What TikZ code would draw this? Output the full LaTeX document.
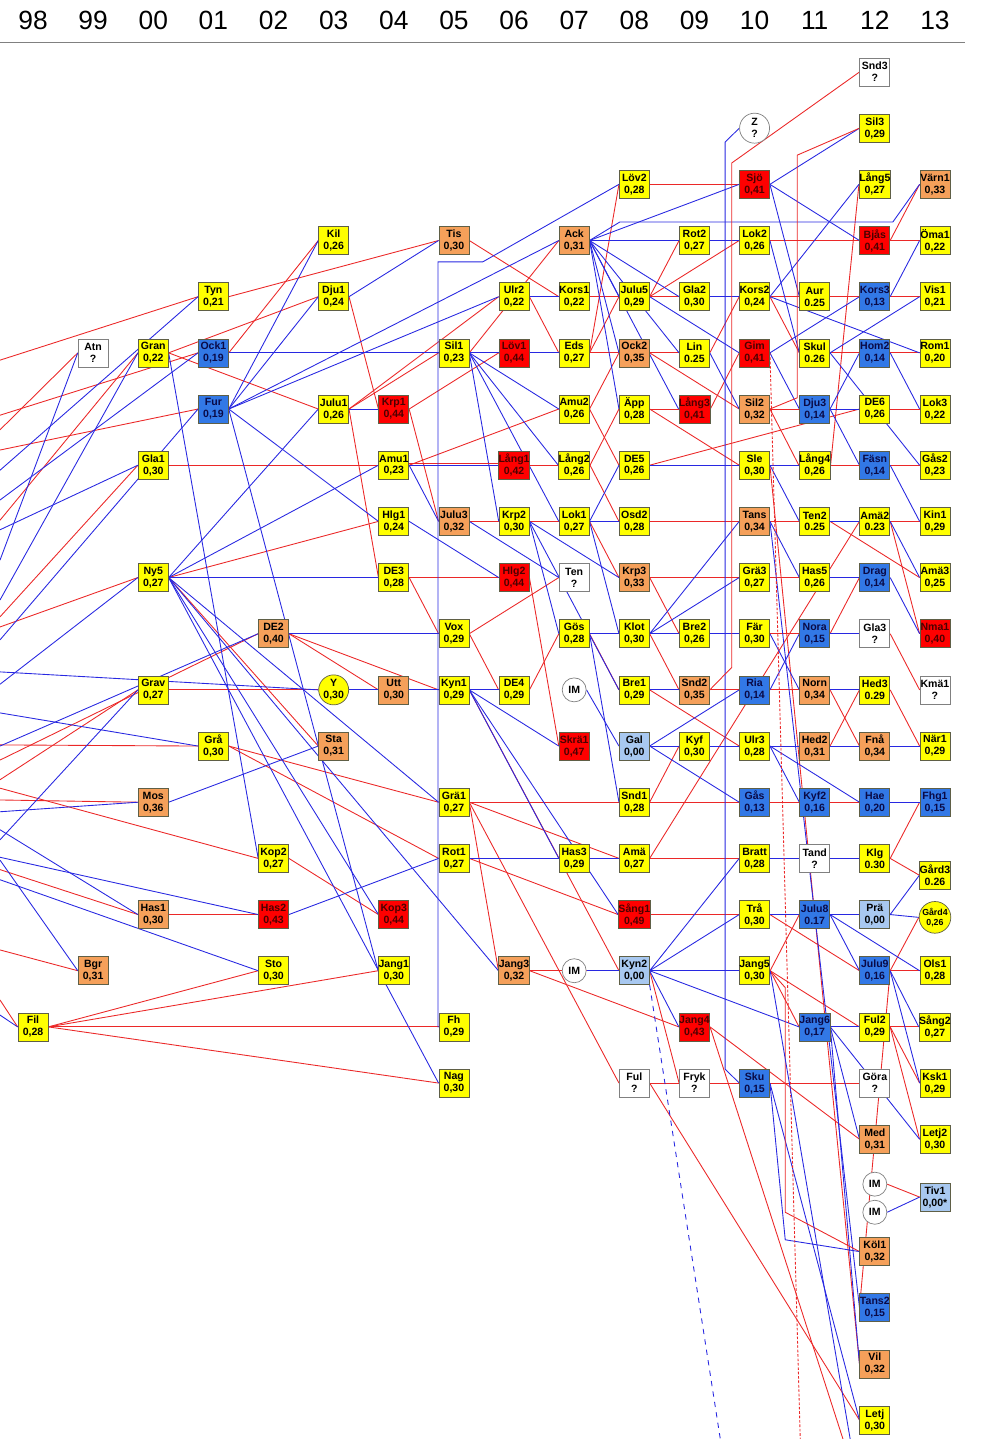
\documentclass[tikz,border=0pt]{standalone}
\usepackage{fontspec}
\setmainfont{Liberation Sans}
\usepackage{xcolor}
\usepackage{tikz}

\definecolor{fYel}{RGB}{255,255,0}
\definecolor{fOrg}{RGB}{245,160,90}
\definecolor{fRed}{RGB}{255,0,0}
\definecolor{fBlue}{RGB}{50,120,230}
\definecolor{fLight}{RGB}{168,200,240}
\definecolor{tRed}{RGB}{75,0,0}
\definecolor{tBlue}{RGB}{10,10,70}
\definecolor{boxEdge}{RGB}{95,95,70}
\definecolor{lineRed}{RGB}{235,40,40}
\definecolor{lineBlue}{RGB}{40,40,225}

\pgfdeclarelayer{back}
\pgfsetlayers{back,main}

\begin{document}
\begin{tikzpicture}[x=1.2026cm, y=-1.1234cm,
    terr/.style={rectangle, draw=boxEdge, thin, minimum width=0.6cm, minimum height=0.56cm, inner sep=0pt, align=center, font=\fontsize{6}{6.8}\selectfont\bfseries},
    yel/.style={terr, fill=fYel},
    org/.style={terr, fill=fOrg},
    hot/.style={terr, fill=fRed, text=tRed},
    blu/.style={terr, fill=fBlue, text=tBlue},
    lbl/.style={terr, fill=fLight},
    unk/.style={terr, draw=black!50, fill=white},
    ring/.style={circle, draw=black!50, fill=white, thin, minimum size=0.6cm, inner sep=0pt, align=center, font=\fontsize{6}{6.8}\selectfont\bfseries},
    yring/.style={ring, draw=boxEdge, fill=fYel},
    imring/.style={ring, minimum size=0.48cm},
    year/.style={font=\fontsize{15}{15}\selectfont},
    dam/.style={draw=lineRed, line width=0.5pt},
    sire/.style={draw=lineBlue, line width=0.5pt}
]
\useasboundingbox (-0.549,-1.282) rectangle (15.766,24.337);

% year header
\foreach \yr [count=\i from 0] in {98,99,00,01,02,03,04,05,06,07,08,09,10,11,12,13}
    \node[year] (yr\i) at (\i,-0.917) {\yr};
\draw[gray, line width=0.8pt] (-0.549,-0.529) -- (15.5,-0.529);

% 98 - 99
\node[yel] (Fil) at (0,17) {Fil\\0,28};
\node[unk] (Atn) at (1,5) {Atn\\?};
\node[org] (Bgr) at (1,16) {Bgr\\0,31};
% 00
\node[yel] (Gran) at (2,5) {Gran\\0,22};
\node[yel] (Gla1) at (2,7) {Gla1\\0,30};
\node[yel] (Ny5) at (2,9) {Ny5\\0,27};
\node[yel] (Grav) at (2,11) {Grav\\0,27};
\node[org] (Mos) at (2,13) {Mos\\0,36};
\node[org] (Has1) at (2,15) {Has1\\0,30};
% 01
\node[yel] (Tyn) at (3,4) {Tyn\\0,21};
\node[blu] (Ock1) at (3,5) {Ock1\\0,19};
\node[blu] (Fur) at (3,6) {Fur\\0,19};
\node[yel] (Graa) at (3,12) {Grå\\0,30};
% 02
\node[org] (DE2) at (4,10) {DE2\\0,40};
\node[yel] (Kop2) at (4,14) {Kop2\\0,27};
\node[hot] (Has2) at (4,15) {Has2\\0,43};
\node[yel] (Sto) at (4,16) {Sto\\0,30};
% 03
\node[yel] (Kil) at (5,3) {Kil\\0,26};
\node[yel] (Dju1) at (5,4) {Dju1\\0,24};
\node[yel] (Julu1) at (5,6) {Julu1\\0,26};
\node[yring] (Y) at (5,11) {Y\\0,30};
\node[org] (Sta) at (5,12) {Sta\\0,31};
% 04
\node[hot] (Krp1) at (6,6) {Krp1\\0,44};
\node[yel] (Amu1) at (6,7) {Amu1\\0,23};
\node[yel] (Hlg1) at (6,8) {Hlg1\\0,24};
\node[yel] (DE3) at (6,9) {DE3\\0,28};
\node[org] (Utt) at (6,11) {Utt\\0,30};
\node[hot] (Kop3) at (6,15) {Kop3\\0,44};
\node[yel] (Jang1) at (6,16) {Jang1\\0,30};
% 05
\node[org] (Tis) at (7,3) {Tis\\0,30};
\node[yel] (Sil1) at (7,5) {Sil1\\0,23};
\node[org] (Julu3) at (7,8) {Julu3\\0,32};
\node[yel] (Vox) at (7,10) {Vox\\0,29};
\node[yel] (Kyn1) at (7,11) {Kyn1\\0,29};
\node[yel] (Grae1) at (7,13) {Grä1\\0,27};
\node[yel] (Rot1) at (7,14) {Rot1\\0,27};
\node[yel] (Fh) at (7,17) {Fh\\0,29};
\node[yel] (Nag) at (7,18) {Nag\\0,30};
% 06
\node[yel] (Ulr2) at (8,4) {Ulr2\\0,22};
\node[hot] (Loev1) at (8,5) {Löv1\\0,44};
\node[hot] (Laang1) at (8,7) {Lång1\\0,42};
\node[yel] (Krp2) at (8,8) {Krp2\\0,30};
\node[hot] (Hlg2) at (8,9) {Hlg2\\0,44};
\node[yel] (DE4) at (8,11) {DE4\\0,29};
\node[org] (Jang3) at (8,16) {Jang3\\0,32};
% 07
\node[org] (Ack) at (9,3) {Ack\\0,31};
\node[yel] (Kors1) at (9,4) {Kors1\\0,22};
\node[yel] (Eds) at (9,5) {Eds\\0,27};
\node[yel] (Amu2) at (9,6) {Amu2\\0,26};
\node[yel] (Laang2) at (9,7) {Lång2\\0,26};
\node[yel] (Lok1) at (9,8) {Lok1\\0,27};
\node[unk] (Ten) at (9,9) {Ten\\?};
\node[yel] (Goes) at (9,10) {Gös\\0,28};
\node[imring] (IMa) at (9,11) {IM};
\node[hot] (Skrae1) at (9,12) {Skrä1\\0,47};
\node[yel] (Has3) at (9,14) {Has3\\0,29};
\node[imring] (IMb) at (9,16) {IM};
% 08
\node[yel] (Loev2) at (10,2) {Löv2\\0,28};
\node[yel] (Julu5) at (10,4) {Julu5\\0,29};
\node[org] (Ock2) at (10,5) {Ock2\\0,35};
\node[yel] (Aepp) at (10,6) {Äpp\\0,28};
\node[yel] (DE5) at (10,7) {DE5\\0,26};
\node[yel] (Osd2) at (10,8) {Osd2\\0,28};
\node[org] (Krp3) at (10,9) {Krp3\\0,33};
\node[yel] (Klot) at (10,10) {Klot\\0,30};
\node[yel] (Bre1) at (10,11) {Bre1\\0,29};
\node[lbl] (Gal) at (10,12) {Gal\\0,00};
\node[yel] (Snd1) at (10,13) {Snd1\\0,28};
\node[yel] (Amae) at (10,14) {Amä\\0,27};
\node[hot] (Saang1) at (10,15) {Sång1\\0,49};
\node[lbl] (Kyn2) at (10,16) {Kyn2\\0,00};
\node[unk] (Ful) at (10,18) {Ful\\?};
% 09
\node[yel] (Rot2) at (11,3) {Rot2\\0,27};
\node[yel] (Gla2) at (11,4) {Gla2\\0,30};
\node[yel] (Lin) at (11,5) {Lin\\0.25};
\node[hot] (Laang3) at (11,6) {Lång3\\0,41};
\node[yel] (Bre2) at (11,10) {Bre2\\0,26};
\node[org] (Snd2) at (11,11) {Snd2\\0,35};
\node[yel] (Kyf) at (11,12) {Kyf\\0,30};
\node[hot] (Jang4) at (11,17) {Jang4\\0,43};
\node[unk] (Fryk) at (11,18) {Fryk\\?};
% 10
\node[ring] (Z) at (12,1) {Z\\?};
\node[hot] (Sjoe) at (12,2) {Sjö\\0,41};
\node[yel] (Lok2) at (12,3) {Lok2\\0,26};
\node[yel] (Kors2) at (12,4) {Kors2\\0,24};
\node[hot] (Gim) at (12,5) {Gim\\0,41};
\node[org] (Sil2) at (12,6) {Sil2\\0,32};
\node[yel] (Sle) at (12,7) {Sle\\0,30};
\node[org] (Tans) at (12,8) {Tans\\0,34};
\node[yel] (Grae3) at (12,9) {Grä3\\0,27};
\node[yel] (Faer) at (12,10) {Fär\\0,30};
\node[blu] (Ria) at (12,11) {Ria\\0,14};
\node[yel] (Ulr3) at (12,12) {Ulr3\\0,28};
\node[blu] (Gaas) at (12,13) {Gås\\0,13};
\node[yel] (Bratt) at (12,14) {Bratt\\0,28};
\node[yel] (Traa) at (12,15) {Trå\\0,30};
\node[yel] (Jang5) at (12,16) {Jang5\\0,30};
\node[blu] (Sku) at (12,18) {Sku\\0,15};
% 11
\node[yel] (Aur) at (13,4) {Aur\\0.25};
\node[yel] (Skul) at (13,5) {Skul\\0.26};
\node[blu] (Dju3) at (13,6) {Dju3\\0,14};
\node[yel] (Laang4) at (13,7) {Lång4\\0,26};
\node[yel] (Ten2) at (13,8) {Ten2\\0.25};
\node[yel] (Has5) at (13,9) {Has5\\0,26};
\node[blu] (Nora) at (13,10) {Nora\\0,15};
\node[org] (Norn) at (13,11) {Norn\\0,34};
\node[org] (Hed2) at (13,12) {Hed2\\0,31};
\node[blu] (Kyf2) at (13,13) {Kyf2\\0,16};
\node[unk] (Tand) at (13,14) {Tand\\?};
\node[blu] (Julu8) at (13,15) {Julu8\\0.17};
\node[blu] (Jang6) at (13,17) {Jang6\\0,17};
% 12
\node[unk] (Snd3) at (14,0) {Snd3\\?};
\node[yel] (Sil3) at (14,1) {Sil3\\0,29};
\node[yel] (Laang5) at (14,2) {Lång5\\0,27};
\node[hot] (Bjaas) at (14,3) {Bjås\\0,41};
\node[blu] (Kors3) at (14,4) {Kors3\\0,13};
\node[blu] (Hom2) at (14,5) {Hom2\\0,14};
\node[yel] (DE6) at (14,6) {DE6\\0,26};
\node[blu] (Faesn) at (14,7) {Fäsn\\0,14};
\node[yel] (Amae2) at (14,8) {Amä2\\0.23};
\node[blu] (Drag) at (14,9) {Drag\\0,14};
\node[unk] (Gla3) at (14,10) {Gla3\\?};
\node[yel] (Hed3) at (14,11) {Hed3\\0.29};
\node[org] (Fnaa) at (14,12) {Fnå\\0,34};
\node[blu] (Hae) at (14,13) {Hae\\0,20};
\node[yel] (Klg) at (14,14) {Klg\\0.30};
\node[lbl] (Prae) at (14,15) {Prä\\0,00};
\node[blu] (Julu9) at (14,16) {Julu9\\0,16};
\node[yel] (Ful2) at (14,17) {Ful2\\0,29};
\node[unk] (Goera) at (14,18) {Göra\\?};
\node[org] (Med) at (14,19) {Med\\0,31};
\node[imring] (IMc) at (14,19.8) {IM};
\node[imring] (IMd) at (14,20.3) {IM};
\node[org] (Koel1) at (14,21) {Köl1\\0,32};
\node[blu] (Tans2) at (14,22) {Tans2\\0,15};
\node[org] (Vil) at (14,23) {Vil\\0,32};
\node[yel] (Letj) at (14,24) {Letj\\0,30};
% 13
\node[org] (Vaern1) at (15,2) {Värn1\\0,33};
\node[yel] (Oema1) at (15,3) {Öma1\\0,22};
\node[yel] (Vis1) at (15,4) {Vis1\\0,21};
\node[yel] (Rom1) at (15,5) {Rom1\\0,20};
\node[yel] (Lok3) at (15,6) {Lok3\\0,22};
\node[yel] (Gaas2) at (15,7) {Gås2\\0,23};
\node[yel] (Kin1) at (15,8) {Kin1\\0,29};
\node[yel] (Amae3) at (15,9) {Amä3\\0,25};
\node[hot] (Nma1) at (15,10) {Nma1\\0,40};
\node[unk] (Kmae1) at (15,11) {Kmä1\\?};
\node[yel] (Naer1) at (15,12) {När1\\0,29};
\node[blu] (Fhg1) at (15,13) {Fhg1\\0,15};
\node[yel] (Gaard3) at (15,14.3) {Gård3\\0.26};
\node[yring, font=\fontsize{5}{6}\selectfont\bfseries] (Gaard4) at (15,15.05) {Gård4\\0,26};
\node[yel] (Ols1) at (15,16) {Ols1\\0,28};
\node[yel] (Saang2) at (15,17) {Sång2\\0,27};
\node[yel] (Ksk1) at (15,18) {Ksk1\\0,29};
\node[yel] (Letj2) at (15,19) {Letj2\\0,30};
\node[lbl] (Tiv1) at (15,20.03) {Tiv1\\0,00*};

% loose ends at the left and bottom border
\foreach \k/\yy in {1/5.13, 2/7.09, 3/6.37, 4/8.69, 5/7.98, 6/9.40, 7/6.11, 8/7.62,
                    9/6.73, 10/10.11, 11/9.70, 12/8.15, 13/9.88, 14/10.90, 15/12.60, 16/13.67,
                    17/11.98, 18/11.41, 19/12.96, 20/13.17, 21/14.20, 22/13.49, 23/15.63, 24/14.03,
                    25/16.52, 26/16.79, 27/12.25, 28/12.00, 29/12.75, 30/13.98, 31/14.38, 32/10.68}
    \coordinate (w\k) at (-0.549,\yy);
\coordinate (b1) at (11.43,24.337);
\coordinate (b2) at (12.76,24.337);
\coordinate (b3) at (13.47,24.337);
\coordinate (b4) at (13.59,24.337);

\begin{pgfonlayer}{back}
% female lines
\foreach \m/\c in {Has1/Has2, Fil/Sto, Ock1/Kil, Gran/Dju1, Gran/Julu1, Grav/Y, Ny5/Sta, Dju1/Krp1,
    Gla1/Amu1, Ny5/Hlg1, Julu1/DE3, DE2/Utt, Kop2/Kop3, Fil/Jang1, Tyn/Tis, Julu1/Sil1, Krp1/Julu3,
    DE3/Vox, DE2/Kyn1, Graa/Grae1, Graa/Rot1, Fil/Fh, Fil/Nag, Julu1/Ulr2, Krp1/Loev1, Julu3/Krp2,
    DE3/Hlg2, Vox/DE4, Grae1/Jang3, Sil1/Ack, Tis/Kors1, Ulr2/Eds, Amu1/Amu2, Laang1/Laang2, Krp2/Lok1,
    Vox/Ten, DE4/Goes, Hlg2/Skrae1, Rot1/Has3, Eds/Loev2, Eds/Julu5, Amu2/Ock2, Laang2/Aepp, Amu2/DE5,
    Laang2/Osd2, Lok1/Krp3, Goes/Klot, Goes/Bre1, Grae1/Snd1, Grae1/Amae, Rot1/Saang1, Kyn1/Kyn2,
    Grae1/Ful, Julu5/Rot2, Kors1/Gla2, Eds/Lin, Aepp/Laang3, Krp3/Bre2, Klot/Snd2, Snd1/Kyf, Jang3/Jang4,
    Kyn2/Fryk, Loev2/Sjoe, Julu5/Lok2, Lin/Kors2, Laang3/Gim, Ock2/Sil2, Aepp/Sle, Osd2/Tans, Krp3/Grae3,
    Bre2/Faer, Snd2/Ria, Bre1/Ulr3, Snd1/Gaas, Amae/Bratt, Saang1/Traa, Jang3/Jang5, Ful/Sku, Gla2/Aur,
    Kors2/Skul, Sil2/Dju3, Sil2/Laang4, Tans/Ten2, Grae3/Has5, Faer/Nora, Snd2/Norn, Ulr3/Hed2,
    Gaas/Kyf2, Bratt/Tand, Jang5/Julu8, Jang5/Jang6, Laang4/Laang5, Lok2/Bjaas, Kors2/Kors3, Skul/Hom2,
    DE5/DE6, Laang4/Faesn, Amae/Amae2, Nora/Drag, Hed2/Hed3, Norn/Fnaa, Gaas/Hae, Tand/Klg, Traa/Prae,
    Traa/Julu9, Jang5/Ful2, Sku/Goera, Jang4/Med, Julu9/Tans2, Sle/Vil, Ful/Letj, Bjaas/Vaern1,
    Bjaas/Oema1, Kors3/Vis1, Hom2/Rom1, DE6/Lok3, Faesn/Gaas2, Amae2/Kin1, Ten2/Amae3, Amae2/Nma1,
    Gla3/Kmae1, Hed3/Naer1, Klg/Fhg1, Klg/Gaard3, Julu9/Gaard4, Julu9/Ols1, Ful2/Saang2, Ful2/Ksk1,
    Ful2/Letj2, IMc/Tiv1}
    \draw[dam] (\m.east) -- (\c.west);
\foreach \p/\c in {w1/Tyn, w3/Atn, w5/Gran, w7/Ock1, w9/Fur, w11/Gla1, w13/Ny5, w15/Grav, w17/Graa,
    w19/Mos, w21/Has1, w23/Bgr, w25/Fil, w27/DE2, w29/Kop2}
    \draw[dam] (\p) -- (\c.west);

% male lines
\foreach \f/\c in {Fur/Kil, Fur/Dju1, Ny5/Julu1, Mos/Sta, Julu1/Krp1, Ny5/Amu1, Fur/Hlg1, Ny5/DE3,
    Y/Utt, Ny5/Kop3, Fur/Jang1, Dju1/Tis, Ock1/Sil1, Amu1/Julu3, DE2/Vox, Utt/Kyn1, Ny5/Grae1, Has2/Rot1,
    Ny5/Nag, Fur/Ulr2, Sil1/Loev1, Amu1/Laang1, Sil1/Krp2, Hlg1/Hlg2, Kyn1/DE4, Ny5/Jang3, Fur/Ack,
    Ulr2/Kors1, Sil1/Eds, Sil1/Amu2, Sil1/Laang2, Sil1/Lok1, Julu3/Ten, Krp2/Goes, Kyn1/Skrae1,
    Kyn1/Has3, Gran/Kop2, Ack/Julu5, Ack/Ock2, Ack/Aepp, Lok1/DE5, Lok1/Osd2, Krp2/Krp3, Lok1/Klot,
    Krp2/Bre1, IMa/Gal, Goes/Snd1, Rot1/Amae, Kyn1/Saang1, IMb/Kyn2, Ack/Rot2, Ack/Gla2, Ack/Lin,
    Ack/Laang3, Goes/Bre2, Bre1/Snd2, Gal/Kyf, Kyn2/Jang4, Ack/Sjoe, Rot2/Lok2, Gla2/Kors2, Julu5/Gim,
    Lin/Sil2, DE5/Sle, Klot/Tans, Klot/Grae3, Klot/Faer, Gal/Ria, Gal/Ulr3, Gal/Gaas, Kyn2/Bratt,
    Kyn2/Traa, Kyn2/Jang5, Sjoe/Aur, Lok2/Skul, Gim/Dju3, Sle/Laang4, Sle/Ten2, Tans/Has5, Ria/Nora,
    Faer/Norn, Kyf/Hed2, Ulr3/Kyf2, Traa/Julu8, Kyn2/Jang6, Sjoe/Sil3, Kors2/Laang5, Sjoe/Bjaas,
    Gim/Kors3, Dju3/Hom2, Dju3/DE6, Dju3/Faesn, Ten2/Amae2, Has5/Drag, Nora/Gla3, Norn/Hed3, Ulr3/Fnaa,
    Ulr3/Hae, Bratt/Klg, Julu8/Prae, Julu8/Julu9, Jang6/Ful2, Jang6/Med, Tans/Tans2, Jang6/Vil,
    Sku/Letj, Kors3/Oema1, Skul/Vis1, Kors2/Rom1, Hom2/Lok3, Skul/Gaas2, Faesn/Kin1, Amae2/Amae3,
    Drag/Nma1, Fnaa/Naer1, Hae/Fhg1, Prae/Gaard3, Prae/Gaard4, Julu8/Ols1, Julu9/Saang2, Julu9/Ksk1,
    Jang6/Letj2, IMd/Tiv1}
    \draw[sire] (\f.east) -- (\c.west);
\foreach \p/\c in {w2/Tyn, w4/Atn, w6/Gran, w8/Ock1, w10/Fur, w12/Gla1, w14/Ny5, w16/Grav, w18/Graa,
    w20/Mos, w22/Has1, w24/Bgr, w26/Fil, w28/DE2, w30/Has2, w31/Sto, w32/Y}
    \draw[sire] (\p) -- (\c.west);

% long routed lines
\draw[dam] ([yshift=1.2pt]Amu1.east) -- ([yshift=1.2pt]Laang1.west);
\draw[sire] (Fh.west) -| (6.735,3.38) -- (7.48,3.38) -- (Loev2.west);
\draw[sire] (Ack.east) -- (9.76,2.67) -- (14.3,2.67) -- (Vaern1.west);
\draw[sire] (Z.west) -- (11.51,1.25) -- (11.51,17.75) -- (Sku.west);
\draw[dam] (Snd2.east) -- (11.62,10.6) -- (11.62,1.62) -- (Snd3.west);
\draw[dam] (Sil2.east) -- (12.71,5.8) -- (12.71,1.48) -- (Sil3.west);
\draw[dam] (Jang5.east) -- (12.51,16.3) -- (12.51,20.3) -- (Koel1.west);
\draw[sire] (Sku.east) -- (12.51,20.79) -- (Koel1.west);
\draw[sire, dashed] (Kyn2.south east) -- (b1);
\draw[dam, dash pattern=on 1.5pt off 1pt] (Gim.east) -- (b2);
\draw[dam] (Jang4.east) -- (b3);
\draw[sire] (Jang5.east) -- (b4);
\end{pgfonlayer}
\end{tikzpicture}
\end{document}
